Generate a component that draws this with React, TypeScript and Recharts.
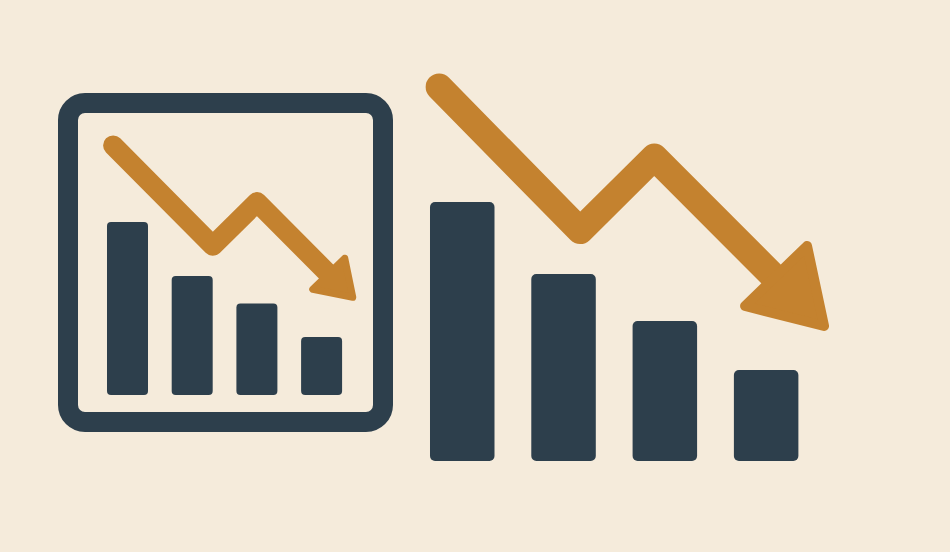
import { Bar, ComposedChart, Line, XAxis, YAxis } from 'recharts';

const INK = '#2d3f4c';
const AMBER = '#c4822f';
const PAPER = '#f5ebdb';

const quarters = ['Q1', 'Q2', 'Q3', 'Q4'];

// inset icon
const insetBars = [66.5, 45.8, 35.2, 22.3];
const insetTrendX = [7, 45.5, 62.6, 93.8];
const insetTrendY = [96, 57.4, 74.2, 43];

// main chart
const mainBars = [64.75, 46.75, 35, 22.75];
const mainTrendX = [6.7, 41.5, 59.8, 93.3];
const mainTrendY = [93.5, 57.6, 76, 42];

const rows = (values: number[]) => quarters.map((name, i) => ({ name, value: values[i] }));
const trend = (xs: number[], ys: number[]) => xs.map((x, i) => ({ x, y: ys[i] }));

// room right of the plot so the arrow head is not cut off
const HEAD_ROOM = 40;

interface PanelProps {
  left: number;
  top: number;
  width: number;
  height: number;
  bars: number[];
  trendX: number[];
  trendY: number[];
  barSize: number;
  radius: number;
  strokeWidth: number;
  head: [number, number][];
  headStroke: number;
}

function Panel({ left, top, width, height, bars, trendX, trendY, barSize, radius, strokeWidth, head, headStroke }: PanelProps) {
  const lastIndex = trendX.length - 1;

  const renderHead = (props: any) => {
    const { cx, cy, index } = props;
    if (index !== lastIndex) return <g key={index} />;
    const points = head.map(([dx, dy]) => `${cx + dx},${cy + dy}`).join(' ');
    return (
      <polygon
        key={index}
        points={points}
        fill={AMBER}
        stroke={AMBER}
        strokeWidth={headStroke}
        strokeLinejoin="round"
      />
    );
  };

  return (
    <div style={{ position: 'absolute', left, top }}>
      <ComposedChart
        width={width + HEAD_ROOM}
        height={height}
        data={rows(bars)}
        margin={{ top: 0, right: HEAD_ROOM, bottom: 0, left: 0 }}
        style={{ overflow: 'visible' }}
      >
        <XAxis xAxisId="cat" dataKey="name" hide />
        <XAxis xAxisId="pos" dataKey="x" type="number" domain={[0, 100]} hide />
        <YAxis domain={[0, 100]} hide />
        <Bar
          xAxisId="cat"
          dataKey="value"
          fill={INK}
          barSize={barSize}
          radius={radius}
          isAnimationActive={false}
        />
        <Line
          xAxisId="pos"
          data={trend(trendX, trendY)}
          dataKey="y"
          type="linear"
          stroke={AMBER}
          strokeWidth={strokeWidth}
          strokeLinecap="round"
          strokeLinejoin="round"
          dot={renderHead}
          activeDot={false}
          isAnimationActive={false}
        />
      </ComposedChart>
    </div>
  );
}

export default function App() {
  return (
    <div style={{ position: 'fixed', left: 0, top: 0, width: 950, height: 552, background: PAPER, overflow: 'hidden' }}>
      <div
        style={{
          position: 'absolute',
          left: 57.7,
          top: 93.3,
          width: 335.6,
          height: 339,
          boxSizing: 'border-box',
          border: `20.5px solid ${INK}`,
          borderRadius: 27,
        }}
      />
      <Panel
        left={95}
        top={134.7}
        width={258.8}
        height={260}
        bars={insetBars}
        trendX={insetTrendX}
        trendY={insetTrendY}
        barSize={41}
        radius={4}
        strokeWidth={20}
        head={[[7, -25], [-25, 6], [15, 14]]}
        headStroke={7}
      />
      <Panel
        left={412}
        top={61}
        width={405.2}
        height={400}
        bars={mainBars}
        trendX={mainTrendX}
        trendY={mainTrendY}
        barSize={64.5}
        radius={5}
        strokeWidth={27}
        head={[[17, -47], [-45, 13], [34, 33]]}
        headStroke={10}
      />
    </div>
  );
}
